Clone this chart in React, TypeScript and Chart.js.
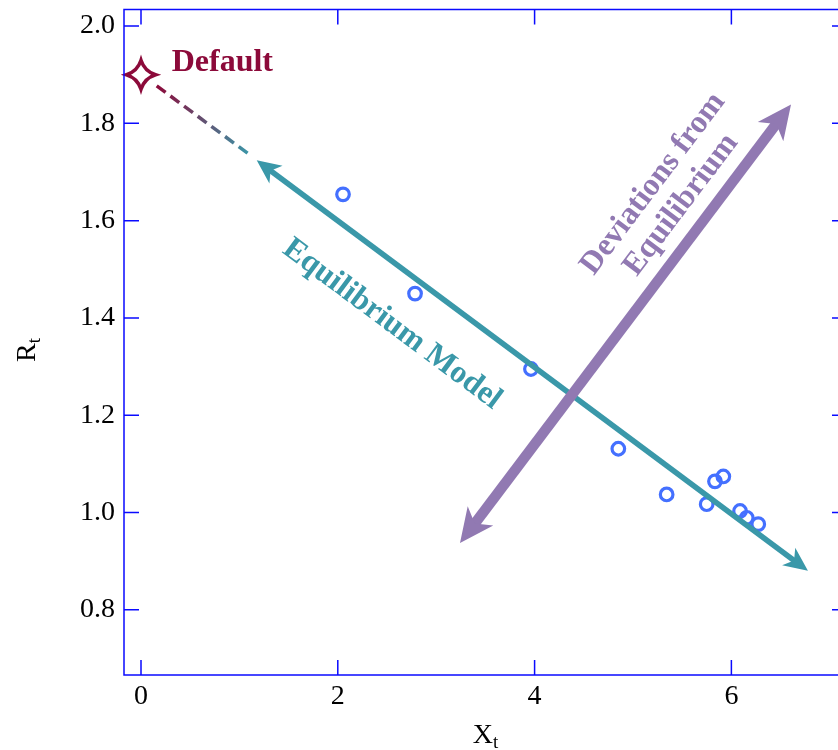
import React, { useEffect, useRef } from "react";
import { Chart, registerables } from "chart.js";

Chart.register(...registerables);

// ---- data ----
const xValues = [2.053, 2.785, 3.963, 4.851, 5.342, 5.749, 5.833, 5.918, 6.088, 6.156, 6.273];
const yValues = [1.654, 1.45, 1.295, 1.131, 1.037, 1.017, 1.064, 1.074, 1.003, 0.989, 0.976];
const xTicks = [0, 2, 4, 6];
const yTicks = [0.8, 1.0, 1.2, 1.4, 1.6, 1.8, 2.0];
const xRange = [-0.1728, 7.175];
const yRange = [0.6658, 2.0341];

// Equilibrium model arrow (tips), dashed extension to the default point
const eqLineX = [1.176, 6.778];
const eqLineY = [1.724, 0.88];
const dashX = [0.16, 1.108];
const dashY = [1.877, 1.735];
const defaultPoint = [0, 1.9];
const defaultLabelPos = [0.312, 1.908];
const eqLabelPos = [2.551, 1.387];

// Deviations arrow (double-headed)
const devX = [3.242, 6.606];
const devY = [0.937, 1.839];
const devLabelPos = [5.346, 1.654];

const BLUE_AXIS = "#0a0aff";
const TEAL = "#3a98a9";
const PURPLE = "#9179b2";
const MAROON = "#8c0a3a";
const POINT_BLUE = "#4470ff";
const SERIF = '"Liberation Serif", "Times New Roman", serif';

function drawHead(ctx: CanvasRenderingContext2D, tx: number, ty: number, ux: number, uy: number, L: number, H: number) {
  const bx = tx - ux * L;
  const by = ty - uy * L;
  const px = -uy;
  const py = ux;
  const nx = tx - ux * L * 0.72;
  const ny = ty - uy * L * 0.72;
  ctx.beginPath();
  ctx.moveTo(tx, ty);
  ctx.lineTo(bx + px * H, by + py * H);
  ctx.lineTo(nx, ny);
  ctx.lineTo(bx - px * H, by - py * H);
  ctx.closePath();
  ctx.fill();
}

function drawArrow(
  ctx: CanvasRenderingContext2D,
  x1: number, y1: number, x2: number, y2: number,
  width: number, L: number, H: number, color: string
) {
  const ang = Math.atan2(y2 - y1, x2 - x1);
  const ux = Math.cos(ang);
  const uy = Math.sin(ang);
  ctx.save();
  ctx.strokeStyle = color;
  ctx.fillStyle = color;
  ctx.lineWidth = width;
  ctx.lineCap = "butt";
  ctx.beginPath();
  ctx.moveTo(x1 + ux * L * 0.6, y1 + uy * L * 0.6);
  ctx.lineTo(x2 - ux * L * 0.6, y2 - uy * L * 0.6);
  ctx.stroke();
  drawHead(ctx, x2, y2, ux, uy, L, H);
  drawHead(ctx, x1, y1, -ux, -uy, L, H);
  ctx.restore();
}

const decorPlugin = {
  id: "decor",
  afterDatasetsDraw(chart: any) {
    const ctx: CanvasRenderingContext2D = chart.ctx;
    const xs = chart.scales.x;
    const ys = chart.scales.y;
    const px = (v: number) => xs.getPixelForValue(v);
    const py = (v: number) => ys.getPixelForValue(v);

    // dashed extension with gradient
    ctx.save();
    const dx1 = px(dashX[0]), dy1 = py(dashY[0]), dx2 = px(dashX[1]), dy2 = py(dashY[1]);
    const grad = ctx.createLinearGradient(dx1, dy1, dx2, dy2);
    grad.addColorStop(0, MAROON);
    grad.addColorStop(1, TEAL);
    ctx.strokeStyle = grad;
    ctx.lineWidth = 3.5;
    ctx.setLineDash([11, 6]);
    ctx.beginPath();
    ctx.moveTo(dx1, dy1);
    ctx.lineTo(dx2, dy2);
    ctx.stroke();
    ctx.restore();

    // equilibrium arrow
    const ex1 = px(eqLineX[0]), ey1 = py(eqLineY[0]), ex2 = px(eqLineX[1]), ey2 = py(eqLineY[1]);
    drawArrow(ctx, ex1, ey1, ex2, ey2, 5.5, 24, 11, TEAL);

    // deviations arrow
    const vx1 = px(devX[0]), vy1 = py(devY[0]), vx2 = px(devX[1]), vy2 = py(devY[1]);
    drawArrow(ctx, vx1, vy1, vx2, vy2, 10.5, 34, 16, PURPLE);

    // labels
    ctx.save();
    ctx.font = `bold 32px ${SERIF}`;
    ctx.textAlign = "center";
    ctx.textBaseline = "middle";
    ctx.fillStyle = TEAL;
    ctx.translate(px(eqLabelPos[0]), py(eqLabelPos[1]));
    ctx.rotate(Math.atan2(ey2 - ey1, ex2 - ex1));
    ctx.fillText("Equilibrium Model", 0, 0);
    ctx.restore();

    ctx.save();
    ctx.font = `bold 32px ${SERIF}`;
    ctx.textAlign = "center";
    ctx.textBaseline = "middle";
    ctx.fillStyle = PURPLE;
    ctx.translate(px(devLabelPos[0]), py(devLabelPos[1]));
    ctx.rotate(Math.atan2(vy2 - vy1, vx2 - vx1));
    ctx.fillText("Deviations from", 0, -17.5);
    ctx.fillText("Equilibrium", 0, 17.5);
    ctx.restore();

    ctx.save();
    ctx.font = `bold 32px ${SERIF}`;
    ctx.textAlign = "left";
    ctx.textBaseline = "alphabetic";
    ctx.fillStyle = MAROON;
    ctx.fillText("Default", px(defaultLabelPos[0]), py(defaultLabelPos[1]));
    ctx.restore();

    // default star marker
    const sx = px(defaultPoint[0]);
    const sy = py(defaultPoint[1]);
    const R = 14.5;
    const c = 3.5;
    ctx.save();
    ctx.strokeStyle = MAROON;
    ctx.lineWidth = 3.5;
    ctx.lineJoin = "miter";
    ctx.beginPath();
    ctx.moveTo(sx, sy - R);
    ctx.quadraticCurveTo(sx + c, sy - c, sx + R, sy);
    ctx.quadraticCurveTo(sx + c, sy + c, sx, sy + R);
    ctx.quadraticCurveTo(sx - c, sy + c, sx - R, sy);
    ctx.quadraticCurveTo(sx - c, sy - c, sx, sy - R);
    ctx.closePath();
    ctx.stroke();
    ctx.restore();
  },
  afterDraw(chart: any) {
    const ctx: CanvasRenderingContext2D = chart.ctx;
    const { left, right, top, bottom } = chart.chartArea;
    const xs = chart.scales.x;
    const ys = chart.scales.y;
    ctx.save();
    ctx.strokeStyle = BLUE_AXIS;
    ctx.lineWidth = 1.5;
    ctx.strokeRect(left, top, right - left, bottom - top);
    const T = 15;
    ctx.beginPath();
    xTicks.forEach((v) => {
      const x = xs.getPixelForValue(v);
      ctx.moveTo(x, bottom);
      ctx.lineTo(x, bottom - T);
      ctx.moveTo(x, top);
      ctx.lineTo(x, top + T);
    });
    yTicks.forEach((v) => {
      const y = ys.getPixelForValue(v);
      ctx.moveTo(left, y);
      ctx.lineTo(left + T, y);
      ctx.moveTo(right, y);
      ctx.lineTo(right - T, y);
    });
    ctx.stroke();
    ctx.restore();

    // axis titles with subscripts
    ctx.save();
    ctx.fillStyle = "#000";
    ctx.textBaseline = "alphabetic";
    ctx.textAlign = "left";
    const mainFont = `28px ${SERIF}`;
    const subFont = `19px ${SERIF}`;
    ctx.font = mainFont;
    const wX = ctx.measureText("X").width;
    ctx.font = subFont;
    const wT = ctx.measureText("t").width;
    const cx = (left + right) / 2;
    const startX = cx - (wX + wT) / 2;
    ctx.font = mainFont;
    ctx.fillText("X", startX, 743);
    ctx.font = subFont;
    ctx.fillText("t", startX + wX, 748);

    ctx.font = mainFont;
    const wR = ctx.measureText("R").width;
    ctx.translate(35, 350);
    ctx.rotate(-Math.PI / 2);
    const sX = -(wR + wT) / 2;
    ctx.fillText("R", sX, 0);
    ctx.font = subFont;
    ctx.fillText("t", sX + wR, 5);
    ctx.restore();
  },
};

export default function App() {
  const ref = useRef<HTMLCanvasElement | null>(null);
  useEffect(() => {
    if (!ref.current) return;
    const tickFont = { family: SERIF, size: 28 };
    const chart = new Chart(ref.current, {
      type: "scatter",
      data: {
        datasets: [
          {
            data: xValues.map((x, i) => ({ x, y: yValues[i] })),
            pointStyle: "circle",
            pointRadius: 6.3,
            pointBorderWidth: 3.2,
            pointBorderColor: POINT_BLUE,
            pointBackgroundColor: "rgba(0,0,0,0)",
            showLine: false,
          },
        ],
      },
      options: {
        responsive: false,
        maintainAspectRatio: false,
        animation: false,
        layout: { padding: { left: 0, right: 13, top: 5, bottom: 0 } },
        plugins: { legend: { display: false }, tooltip: { enabled: false } },
        scales: {
          x: {
            type: "linear",
            min: xRange[0],
            max: xRange[1],
            afterBuildTicks: (s: any) => {
              s.ticks = xTicks.map((v) => ({ value: v }));
            },
            afterFit: (s: any) => {
              s.height = 75;
              s.paddingLeft = 0;
              s.paddingRight = 0;
              s.paddingTop = 0;
              s.paddingBottom = 0;
            },
            grid: { display: false, drawTicks: false },
            border: { display: false },
            ticks: {
              color: "#000",
              font: tickFont,
              padding: 5,
              maxRotation: 0,
              autoSkip: false,
              callback: (v: any) => String(v),
            },
          },
          y: {
            type: "linear",
            min: yRange[0],
            max: yRange[1],
            afterBuildTicks: (s: any) => {
              s.ticks = yTicks.map((v) => ({ value: v }));
            },
            afterFit: (s: any) => {
              s.width = 124;
              s.paddingLeft = 0;
              s.paddingRight = 0;
              s.paddingTop = 0;
              s.paddingBottom = 0;
            },
            grid: { display: false, drawTicks: false },
            border: { display: false },
            ticks: {
              color: "#000",
              font: tickFont,
              padding: 9,
              autoSkip: false,
              callback: (v: any) => Number(v).toFixed(1),
            },
          },
        },
      },
      plugins: [decorPlugin],
    });
    return () => chart.destroy();
  }, []);
  return (
    <div style={{ position: "fixed", left: 0, top: 0, width: 838, height: 750, overflow: "hidden", background: "#fff" }}>
      <canvas ref={ref} width={860} height={750} style={{ width: 860, height: 750, display: "block" }} />
    </div>
  );
}
